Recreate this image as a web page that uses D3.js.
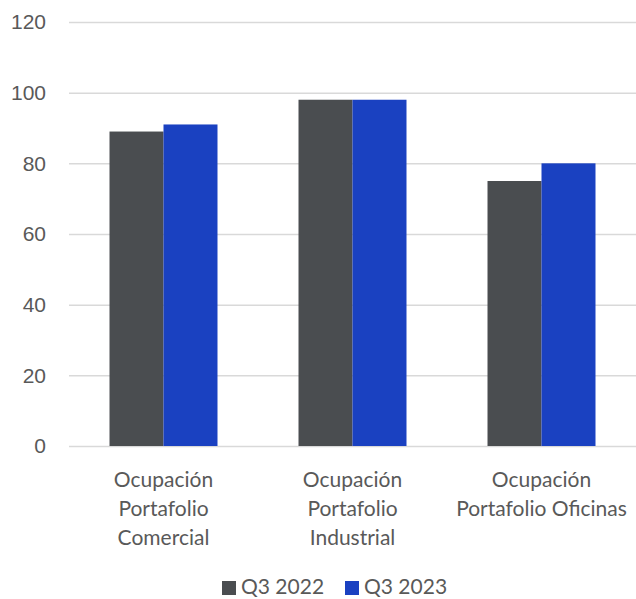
<!DOCTYPE html>
<html>
<head>
<meta charset="utf-8">
<script src="https://cdn.jsdelivr.net/npm/d3@7"></script>
<style>
  body { margin: 0; background: #fff; }
  svg { display: block; font-family: Lato, "Open Sans", sans-serif; }
  .grid line { stroke: #d9d9d9; stroke-width: 1.5; }
  .grid path { display: none; }
  .y.axis text, .x.axis text, .legend text { fill: #595959; font-size: 21px; }
</style>
</head>
<body>
<svg id="chart" width="636" height="599"></svg>
<script>
// categories, each split into its label lines
var categories = ["Comercial", "Industrial", "Oficinas"];
var categoryLines = [
    ["Ocupación", "Portafolio", "Comercial"],
    ["Ocupación", "Portafolio", "Industrial"],
    ["Ocupación", "Portafolio Oficinas"]
];
var seriesNames = ["Q3 2022", "Q3 2023"];
var q3_2022 = [89, 98, 75];
var q3_2023 = [91, 98, 80];
var yTicks = [0, 20, 40, 60, 80, 100, 120];
var colors = ["#4a4d50", "#1a41c1"];

var svg = d3.select("svg#chart"),
    margin = {top: 22, left: 69, bottom: 153, right: 0},
    width = 636 - margin.left - margin.right,
    height = 599 - margin.top - margin.bottom;

var g = svg.append("g").attr("transform", "translate(" + margin.left + "," + margin.top + ")");

var x = d3.scaleBand().domain(categories).range([0, width])
    .paddingInner(0.4286).paddingOuter(0.2143);
var xSeries = d3.scaleBand().domain(seriesNames).range([0, x.bandwidth()]);
var y = d3.scaleLinear().domain([0, 120]).range([height, 0]);

// gridlines
g.append("g")
    .attr("class", "grid")
    .call(d3.axisLeft(y).tickValues(yTicks).tickSize(-width).tickFormat(""));

// y labels
var yAxis = g.append("g")
    .attr("class", "y axis")
    .call(d3.axisLeft(y).tickValues(yTicks).tickSize(0).tickPadding(23));
yAxis.select(".domain").remove();

// bars
var rows = categories.map(function (c, i) {
    return {cat: c, values: [q3_2022[i], q3_2023[i]]};
});

var groups = g.selectAll("g.cat")
    .data(rows)
    .enter().append("g")
    .attr("class", "cat")
    .attr("transform", function (d) { return "translate(" + x(d.cat) + ",0)"; });

groups.selectAll("rect")
    .data(function (d) {
        return d.values.map(function (v, j) { return {name: seriesNames[j], value: v, j: j}; });
    })
    .enter().append("rect")
    .attr("x", function (d) { return xSeries(d.name); })
    .attr("y", function (d) { return y(d.value); })
    .attr("width", xSeries.bandwidth())
    .attr("height", function (d) { return height - y(d.value); })
    .attr("fill", function (d) { return colors[d.j]; });

// category labels
var xLabels = g.append("g").attr("class", "x axis");
categories.forEach(function (c, i) {
    var t = xLabels.append("text")
        .attr("text-anchor", "middle")
        .attr("x", x(c) + x.bandwidth() / 2)
        .attr("y", height + 41);
    categoryLines[i].forEach(function (line, k) {
        t.append("tspan")
            .attr("x", x(c) + x.bandwidth() / 2)
            .attr("dy", k === 0 ? 0 : 29)
            .text(line);
    });
});

// legend
var legend = svg.append("g").attr("class", "legend");
var legendX = [222, 345];
seriesNames.forEach(function (name, i) {
    legend.append("rect")
        .attr("x", legendX[i])
        .attr("y", 581)
        .attr("width", 14)
        .attr("height", 14)
        .attr("fill", colors[i]);
    legend.append("text")
        .attr("x", legendX[i] + 19)
        .attr("y", 594)
        .text(name);
});
</script>
</body>
</html>
